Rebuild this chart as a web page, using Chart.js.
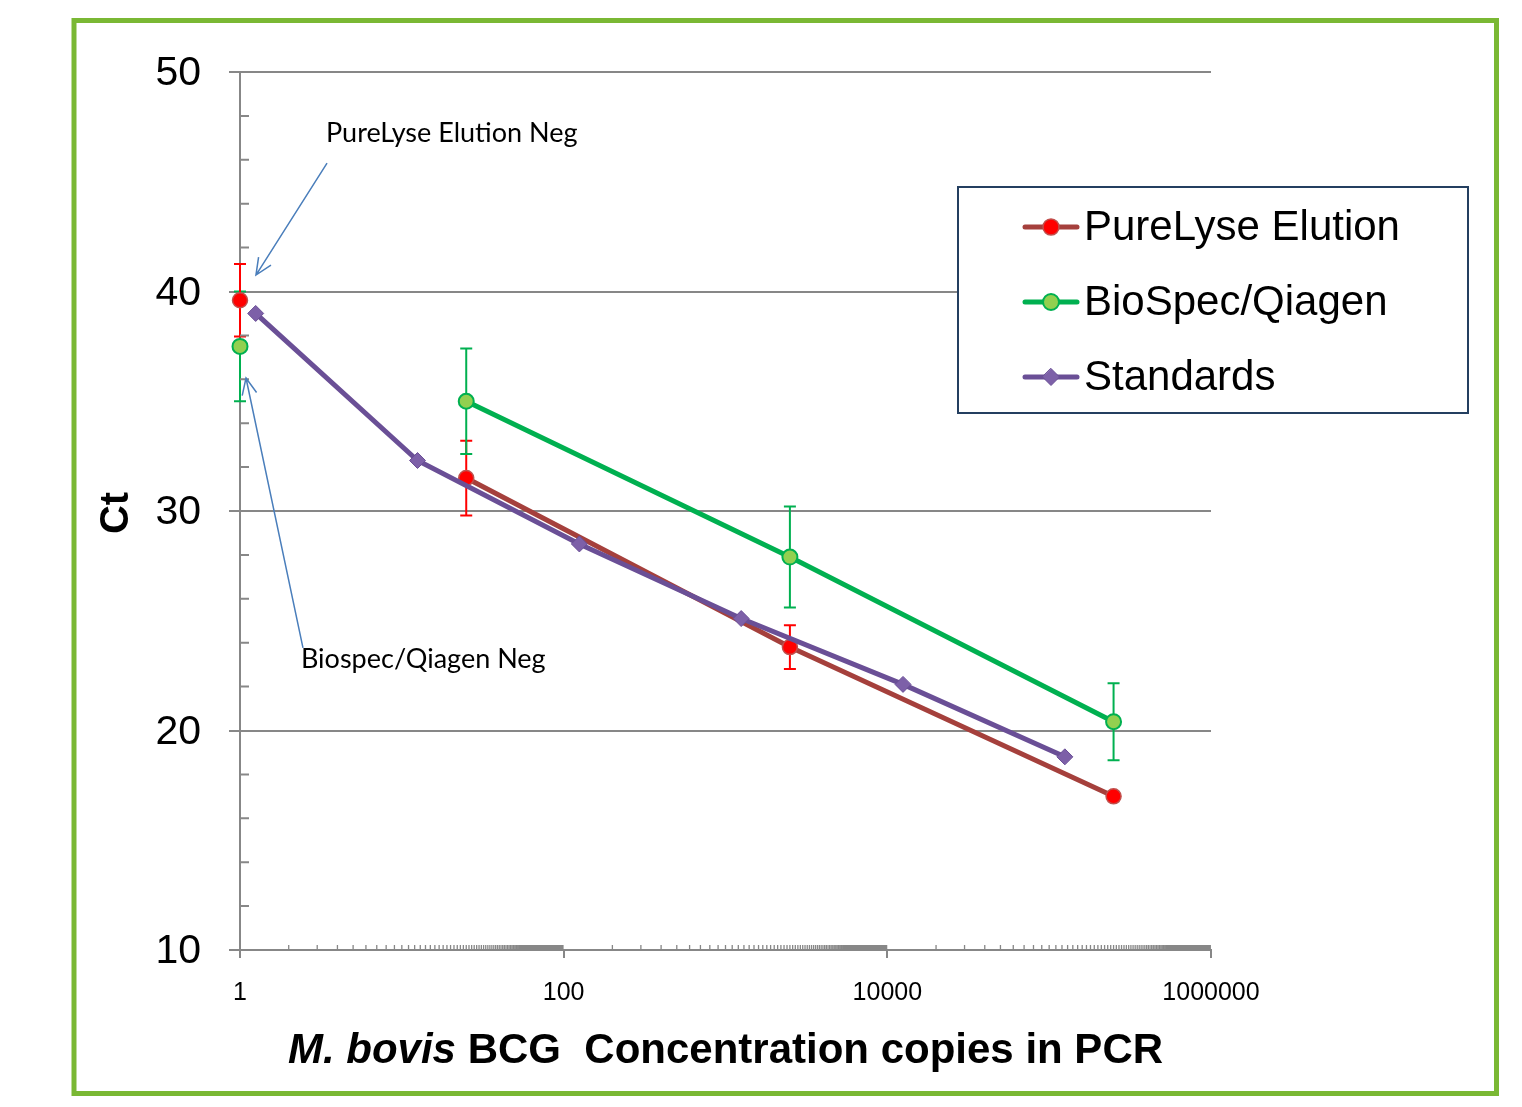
<!DOCTYPE html>
<html lang="en">
<head>
  <meta charset="UTF-8">
  <title>M. bovis BCG Ct</title>
  <script src="https://cdn.jsdelivr.net/npm/chart.js"></script>
  <style>
    body { margin: 0; background: #fff; }
    canvas { display: block; }
  </style>
</head>
<body>
  <canvas id="ctChart" width="1522" height="1107"></canvas>

  <script>
    // axis ticks
    var xTicks = [1, 100, 10000, 1000000];
    var yTicks = [10, 20, 30, 40, 50];

    // series (copies in PCR vs Ct)
    var pureX = [25, 2500, 250000];
    var pureY = [31.5, 23.8, 17.0];
    var pureErr = [1.7, 1.0, 0];

    var bioX = [25, 2500, 250000];
    var bioY = [35.0, 27.9, 20.4];
    var bioErr = [2.4, 2.3, 1.75];

    var stdX = [1.25, 12.5, 125, 1250, 12500, 125000];
    var stdY = [39.0, 32.3, 28.5, 25.1, 22.1, 18.8];

    // negative controls (plotted at 1 copy, not joined to the series line)
    var pureNegX = [1];
    var pureNegY = [39.6];
    var pureNegErr = [1.65];

    var bioNegX = [1];
    var bioNegY = [37.5];
    var bioNegErr = [2.5];

    var seriesNames = ['PureLyse Elution', 'BioSpec/Qiagen', 'Standards'];

    // text notes with arrows, in data units
    var notes = [
      { text: 'PureLyse Elution Neg', at: [3.4, 47.2], from: [3.45, 45.85], to: [1.255, 40.75] },
      { text: 'Biospec/Qiagen Neg', at: [2.38, 23.26], from: [2.45, 23.76], to: [1.089, 36.06] }
    ];

    function pairs(xs, ys) {
      return xs.map(function (x, i) { return { x: x, y: ys[i] }; });
    }

    var GRID = '#878787';
    var RED = { line: '#A5403C', fill: '#FF0000', edge: '#C0504D', err: '#FF0000' };
    var GREEN = { line: '#00B050', fill: '#92D050', edge: '#00B050', err: '#00B050' };
    var PURPLE = { line: '#6A4F96', fill: '#7D60A8', edge: '#6A4F96' };

    function drawErrors(ctx, xs, ys, errs, color, sx, sy) {
      ctx.save();
      ctx.strokeStyle = color;
      ctx.lineWidth = 2;
      xs.forEach(function (x, i) {
        if (!errs[i]) return;
        var px = sx.getPixelForValue(x);
        var top = sy.getPixelForValue(ys[i] + errs[i]);
        var bot = sy.getPixelForValue(ys[i] - errs[i]);
        ctx.beginPath();
        ctx.moveTo(px, top); ctx.lineTo(px, bot);
        ctx.moveTo(px - 6, top); ctx.lineTo(px + 6, top);
        ctx.moveTo(px - 6, bot); ctx.lineTo(px + 6, bot);
        ctx.stroke();
      });
      ctx.restore();
    }

    function drawArrow(ctx, x1, y1, x2, y2) {
      var a = Math.atan2(y2 - y1, x2 - x1);
      var len = 18, sp = 0.42;
      ctx.beginPath();
      ctx.moveTo(x1, y1); ctx.lineTo(x2, y2);
      ctx.moveTo(x2 - len * Math.cos(a - sp), y2 - len * Math.sin(a - sp));
      ctx.lineTo(x2, y2);
      ctx.lineTo(x2 - len * Math.cos(a + sp), y2 - len * Math.sin(a + sp));
      ctx.stroke();
    }

    var decor = {
      id: 'decor',
      beforeDatasetsDraw: function (chart) {
        var ctx = chart.ctx, sx = chart.scales.x, sy = chart.scales.y;
        drawErrors(ctx, bioNegX, bioNegY, bioNegErr, GREEN.err, sx, sy);
        drawErrors(ctx, pureNegX, pureNegY, pureNegErr, RED.err, sx, sy);
        drawErrors(ctx, pureX, pureY, pureErr, RED.err, sx, sy);
        drawErrors(ctx, bioX, bioY, bioErr, GREEN.err, sx, sy);
      },
      afterDraw: function (chart) {
        var ctx = chart.ctx, sx = chart.scales.x, sy = chart.scales.y;
        var area = chart.chartArea;
        ctx.save();

        // y minor ticks, every 2
        ctx.strokeStyle = GRID;
        ctx.lineWidth = 2;
        ctx.beginPath();
        for (var v = 12; v < 50; v += 2) {
          if (v % 10 === 0) continue;
          var py = sy.getPixelForValue(v);
          ctx.moveTo(area.left, py); ctx.lineTo(area.left + 9, py);
        }
        ctx.stroke();

        // x minor ticks (k * base, k = 2..99 per two-decade step)
        ctx.lineWidth = 1.3;
        ctx.beginPath();
        for (var b = 0; b < xTicks.length - 1; b++) {
          for (var k = 2; k < 100; k++) {
            var px = sx.getPixelForValue(xTicks[b] * k);
            ctx.moveTo(px, area.bottom); ctx.lineTo(px, area.bottom - 5);
          }
        }
        ctx.stroke();

        // axis titles
        ctx.fillStyle = '#000';
        ctx.textBaseline = 'alphabetic';
        var it = 'italic bold 42px "Liberation Sans", Arial, sans-serif';
        var bd = 'bold 42px "Liberation Sans", Arial, sans-serif';
        var p1 = 'M. bovis', p2 = ' BCG  Concentration copies in PCR';
        ctx.font = it; var w1 = ctx.measureText(p1).width;
        ctx.font = bd; var w2 = ctx.measureText(p2).width;
        var cx = (area.left + area.right) / 2;
        var x0 = cx - (w1 + w2) / 2;
        ctx.textAlign = 'left';
        ctx.font = it; ctx.fillText(p1, x0, 1063);
        ctx.font = bd; ctx.fillText(p2, x0 + w1, 1063);

        ctx.save();
        ctx.translate(128, (area.top + area.bottom) / 2 + 2);
        ctx.rotate(-Math.PI / 2);
        ctx.textAlign = 'center';
        ctx.font = 'bold 40px "Liberation Sans", Arial, sans-serif';
        ctx.fillText('Ct', 0, 0);
        ctx.restore();

        // notes with arrows
        ctx.strokeStyle = '#4A7EBB';
        ctx.lineWidth = 1.5;
        ctx.font = '27px Lato, "Noto Sans", sans-serif';
        ctx.textAlign = 'left';
        ctx.textBaseline = 'middle';
        notes.forEach(function (n) {
          ctx.fillText(n.text, sx.getPixelForValue(n.at[0]), sy.getPixelForValue(n.at[1]));
          drawArrow(ctx,
            sx.getPixelForValue(n.from[0]), sy.getPixelForValue(n.from[1]),
            sx.getPixelForValue(n.to[0]), sy.getPixelForValue(n.to[1]));
        });

        // legend box
        ctx.strokeStyle = '#243F60';
        ctx.lineWidth = 2;
        ctx.fillStyle = '#fff';
        ctx.fillRect(958, 187, 510, 226);
        ctx.strokeRect(958, 187, 510, 226);
        var rows = [227, 302, 377];
        ctx.font = '42px "Liberation Sans", Arial, sans-serif';
        chart.data.datasets.slice(0, 3).forEach(function (ds, i) {
          var y = rows[i];
          ctx.strokeStyle = ds.borderColor;
          ctx.lineWidth = 5;
          ctx.lineCap = 'round';
          ctx.beginPath(); ctx.moveTo(1025, y); ctx.lineTo(1077, y); ctx.stroke();
          ctx.fillStyle = ds.pointBackgroundColor;
          ctx.strokeStyle = ds.pointBorderColor;
          ctx.lineWidth = ds.pointBorderWidth;
          ctx.beginPath();
          var r = ds.pointRadius + 0.5;
          if (ds.pointStyle === 'rectRot') {
            ctx.moveTo(1051, y - r); ctx.lineTo(1051 + r, y);
            ctx.lineTo(1051, y + r); ctx.lineTo(1051 - r, y); ctx.closePath();
          } else {
            ctx.arc(1051, y, r, 0, Math.PI * 2);
          }
          ctx.fill(); ctx.stroke();
          ctx.fillStyle = '#000';
          ctx.fillText(ds.label, 1084, y + 1);
        });

        // outer green frame
        ctx.strokeStyle = '#7AB834';
        ctx.lineWidth = 5;
        ctx.strokeRect(74, 20.5, 1422.5, 1073);
        ctx.restore();
      }
    };

    function series(label, pts, c, style, radius, edgeW, showLine, order) {
      return {
        label: label,
        data: pts,
        showLine: showLine,
        borderColor: c.line,
        borderWidth: 5,
        pointStyle: style,
        pointRadius: radius,
        pointBackgroundColor: c.fill,
        pointBorderColor: c.edge,
        pointBorderWidth: edgeW,
        clip: false,
        order: order
      };
    }

    var ctx = document.getElementById('ctChart').getContext('2d');

    var chart = new Chart(ctx, {
      type: 'line',
      data: {
        datasets: [
          series(seriesNames[0], pairs(pureX, pureY), RED, 'circle', 7.5, 1.5, true, 1),
          series(seriesNames[1], pairs(bioX, bioY), GREEN, 'circle', 7.5, 2, true, 2),
          series(seriesNames[2], pairs(stdX, stdY), PURPLE, 'rectRot', 8, 1, true, 0),
          series(seriesNames[0] + ' Neg', pairs(pureNegX, pureNegY), RED, 'circle', 7.5, 1.5, false, 0),
          series(seriesNames[1] + ' Neg', pairs(bioNegX, bioNegY), GREEN, 'circle', 7.5, 2, false, 1)
        ]
      },
      options: {
        responsive: false,
        animation: false,
        devicePixelRatio: 1,
        layout: { padding: { left: 0, top: 72, right: 311, bottom: 0 } },
        plugins: {
          legend: { display: false },
          tooltip: { enabled: false }
        },
        elements: { line: { tension: 0 } },
        scales: {
          x: {
            type: 'logarithmic',
            min: 1,
            max: 1000000,
            afterBuildTicks: function (scale) {
              scale.ticks = xTicks.map(function (v) { return { value: v }; });
            },
            afterFit: function (scale) { scale.height = 157; },
            grid: { drawOnChartArea: false, drawTicks: true, tickLength: 8, color: GRID, lineWidth: 2 },
            border: { display: true, color: GRID, width: 2 },
            ticks: {
              autoSkip: false,
              maxRotation: 0,
              padding: 20,
              color: '#000',
              font: { family: '"Liberation Sans", Arial, sans-serif', size: 25 },
              callback: function (v) { return String(v); }
            }
          },
          y: {
            min: 10,
            max: 50,
            afterBuildTicks: function (scale) {
              scale.ticks = yTicks.map(function (v) { return { value: v }; });
            },
            afterFit: function (scale) { scale.width = 240; },
            grid: { drawTicks: true, tickLength: 11, color: GRID, lineWidth: 2 },
            border: { display: true, color: GRID, width: 2 },
            ticks: {
              padding: 28,
              labelOffset: 2,
              color: '#000',
              font: { family: '"Liberation Sans", Arial, sans-serif', size: 41 }
            }
          }
        }
      },
      plugins: [decor]
    });
  </script>
</body>
</html>
